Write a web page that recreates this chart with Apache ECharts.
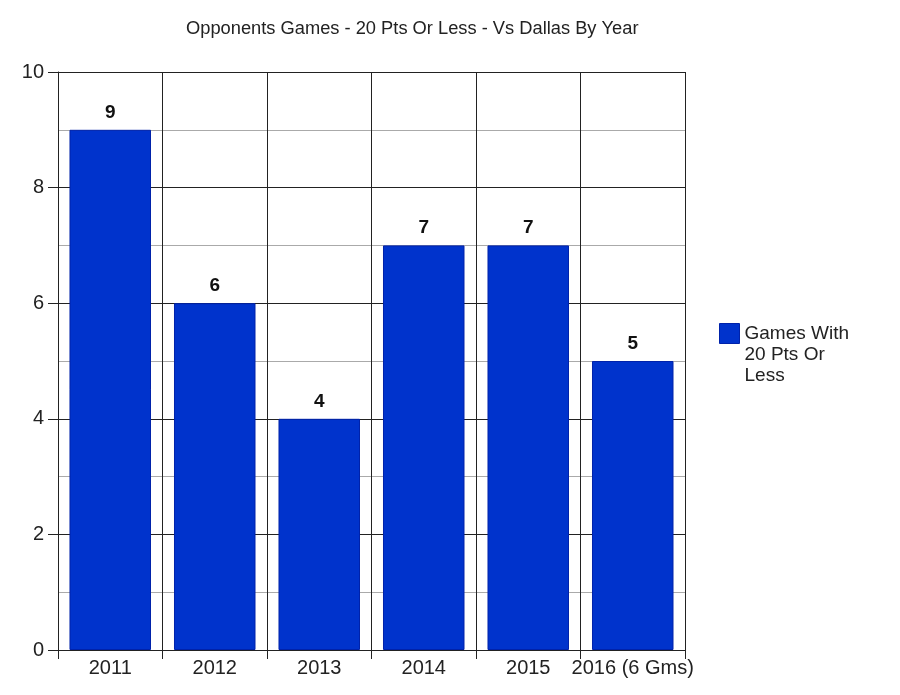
<!DOCTYPE html>
<html><head><meta charset="utf-8">
<script src="https://cdn.jsdelivr.net/npm/echarts@6/dist/echarts.min.js"></script>
<style>html,body{margin:0;padding:0;background:#fff}#c{width:900px;height:695px}</style>
</head><body><div id="c"></div>
<script>
const titleText = 'Opponents Games - 20 Pts Or Less - Vs Dallas By Year';
const categories = ['2011', '2012', '2013', '2014', '2015', '2016 (6 Gms)'];
const seriesName = 'Games With 20 Pts Or Less';
const legendLines = ['Games With', '20 Pts Or', 'Less'];
const values = [9, 6, 4, 7, 7, 5];
const yTicks = [0, 2, 4, 6, 8, 10];

const font = 'Liberation Sans, Arial, sans-serif';
const chart = echarts.init(document.getElementById('c'), null, {renderer: 'canvas'});
chart.setOption({
  animation: false,
  backgroundColor: '#fff',
  title: {
    text: titleText, left: 181, top: 15,
    textStyle: {fontFamily: font, fontSize: 18.3, fontWeight: 'normal', color: '#222'}
  },
  legend: {
    data: [seriesName], left: 719, top: 281, orient: 'vertical', padding: 0,
    icon: 'rect', itemWidth: 20, itemHeight: 20, itemGap: 8,
    formatter: () => '\n\n' + legendLines.join('\n'),
    textStyle: {fontFamily: font, fontSize: 19, color: '#222', lineHeight: 21},
    itemStyle: {borderColor: '#0022aa', borderWidth: 1}
  },
  grid: {left: 58, right: 215, top: 72, bottom: 45, containLabel: false},
  xAxis: {
    type: 'category', data: categories, boundaryGap: true,
    axisLine: {lineStyle: {color: '#222', width: 1}},
    axisTick: {show: true, length: 9, lineStyle: {color: '#222'}},
    axisLabel: {interval: 0, margin: 8, fontFamily: font, fontSize: 20, color: '#222'},
    splitLine: {show: true, lineStyle: {color: '#222', width: 1}}
  },
  yAxis: {
    type: 'value', min: 0, max: 10, interval: 2,
    axisLine: {show: true, lineStyle: {color: '#222'}},
    axisTick: {show: true, length: 10, lineStyle: {color: '#222'}},
    axisLabel: {margin: 14, fontFamily: font, fontSize: 20, color: '#222',
      formatter: v => yTicks.includes(v) ? String(v) : ''},
    splitLine: {show: true, lineStyle: {color: '#222', width: 1}},
    minorTick: {show: false, splitNumber: 2},
    minorSplitLine: {show: true, lineStyle: {color: '#aaa', width: 1}}
  },
  series: [{
    name: seriesName, type: 'bar', data: values, barWidth: '78%',
    itemStyle: {color: '#0033cc', borderColor: '#0022aa', borderWidth: 1},
    label: {show: true, position: 'top', distance: 8, fontFamily: font, fontSize: 19,
      fontWeight: 'bold', color: '#111'}
  }]
});
</script></body></html>
